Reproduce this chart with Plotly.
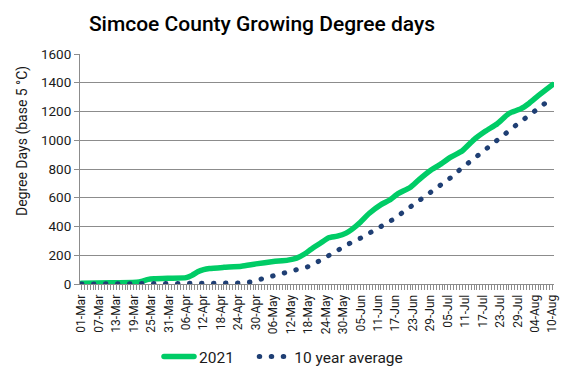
import plotly.graph_objects as go

# 2021 cumulative growing degree days (sampled dates)
dates_2021 = ["2021-03-01", "2021-03-11", "2021-03-20", "2021-03-22", "2021-03-24", "2021-03-26",
              "2021-03-31", "2021-04-06", "2021-04-08", "2021-04-10", "2021-04-12", "2021-04-14",
              "2021-04-19", "2021-04-25", "2021-04-30", "2021-05-06", "2021-05-11", "2021-05-14",
              "2021-05-17", "2021-05-19", "2021-05-22", "2021-05-25", "2021-05-28", "2021-05-31",
              "2021-06-02", "2021-06-05", "2021-06-08", "2021-06-12", "2021-06-15", "2021-06-18",
              "2021-06-22", "2021-06-25", "2021-06-29", "2021-07-02", "2021-07-06", "2021-07-10",
              "2021-07-14", "2021-07-18", "2021-07-22", "2021-07-26", "2021-07-30", "2021-08-02",
              "2021-08-05", "2021-08-10"]
gdd_2021 = [5, 8, 12, 20, 32, 36,
            40, 44, 60, 85, 100, 108,
            116, 124, 140, 156, 166, 180,
            212, 242, 282, 322, 333, 354,
            380, 432, 492, 552, 584, 630,
            671, 725, 790, 827, 882, 927,
            1005, 1064, 1115, 1186, 1218, 1258,
            1308, 1386]

# 10 year average
dates_avg = ["2021-03-01", "2021-04-08", "2021-04-20", "2021-04-24", "2021-04-28", "2021-05-02",
             "2021-05-06", "2021-05-10", "2021-05-14", "2021-05-18", "2021-05-22", "2021-05-25",
             "2021-05-29", "2021-06-01", "2021-06-05", "2021-06-09", "2021-06-12", "2021-06-16",
             "2021-06-19", "2021-06-23", "2021-06-26", "2021-06-29", "2021-07-03", "2021-07-06",
             "2021-07-09", "2021-07-12", "2021-07-15", "2021-07-19", "2021-07-22", "2021-07-25",
             "2021-07-28", "2021-08-01", "2021-08-04", "2021-08-07", "2021-08-10"]
gdd_avg = [0, 0, 2, 7, 14, 35,
           53, 72, 95, 121, 162, 198,
           247, 280, 319, 360, 400, 447,
           490, 545, 590, 634, 692, 740,
           793, 839, 887, 952, 1003, 1049,
           1098, 1158, 1203, 1251, 1296]

tick_dates = ["2021-03-01", "2021-03-07", "2021-03-13", "2021-03-19", "2021-03-25", "2021-03-31",
              "2021-04-06", "2021-04-12", "2021-04-18", "2021-04-24", "2021-04-30", "2021-05-06",
              "2021-05-12", "2021-05-18", "2021-05-24", "2021-05-30", "2021-06-05", "2021-06-11",
              "2021-06-17", "2021-06-23", "2021-06-29", "2021-07-05", "2021-07-11", "2021-07-17",
              "2021-07-23", "2021-07-29", "2021-08-04", "2021-08-10"]
tick_labels = ["01-Mar", "07-Mar", "13-Mar", "19-Mar", "25-Mar", "31-Mar",
               "06-Apr", "12-Apr", "18-Apr", "24-Apr", "30-Apr", "06-May",
               "12-May", "18-May", "24-May", "30-May", "05-Jun", "11-Jun",
               "17-Jun", "23-Jun", "29-Jun", "05-Jul", "11-Jul", "17-Jul",
               "23-Jul", "29-Jul", "04-Aug", "10-Aug"]

GREEN = "#00CC66"
NAVY = "#1F3F74"
GRID = "#8C8C8C"
FONT = "Roboto"

fig = go.Figure()
fig.add_trace(go.Scatter(x=dates_2021, y=gdd_2021, mode="lines",
                         name="2021\u00a0\u00a0\u00a0\u00a0",
                         line=dict(color=GREEN, width=5.5, shape="spline", smoothing=0.5)))
fig.add_trace(go.Scatter(x=dates_avg, y=gdd_avg, mode="lines", name="10 year average",
                         line=dict(color=NAVY, width=5, dash="0.5px,11.5px")))

fig.update_layout(
    width=568, height=378,
    margin=dict(l=80, r=14, t=54, b=94, autoexpand=False),
    paper_bgcolor="white", plot_bgcolor="white",
    font=dict(family=FONT, color="#1a1a1a", size=13),
    title=dict(text="Simcoe County Growing Degree days", xref="container", yref="container",
               x=262/568, xanchor="center", y=1-24/378, yanchor="middle",
               font=dict(family=FONT, size=21, color="#000000", weight=500)),
    showlegend=True,
    legend=dict(orientation="h", xref="container", x=159/568, xanchor="left",
                yref="container", y=1-357/378, yanchor="middle",
                font=dict(size=15.5, color="#1a1a1a"), itemwidth=30, tracegroupgap=0),
    xaxis=dict(type="date", range=["2021-02-28 12:00", "2021-08-10 12:00"],
               tickmode="array", tickvals=tick_dates, ticktext=tick_labels, tickangle=-90,
               tickfont=dict(size=12), showgrid=False, showline=True, linecolor=GRID,
               linewidth=1, ticks="outside", ticklen=5, tickcolor=GRID,
               minor=dict(dtick=86400000, ticks="outside", ticklen=5, tickcolor=GRID,
                          showgrid=False),
               zeroline=False),
    yaxis=dict(range=[0, 1600], dtick=200, showgrid=True, gridcolor=GRID, gridwidth=1,
               showline=True, linecolor=GRID, linewidth=1, ticks="outside", ticklen=5,
               tickcolor=GRID, tickfont=dict(size=13.5), zeroline=False),
    annotations=[dict(text="Degree Days (base 5 °C)", xref="paper", yref="paper",
                      x=-0.121, y=0.62, xanchor="center", yanchor="middle", textangle=-90,
                      showarrow=False, font=dict(size=14, color="#1a1a1a"))],
)

post = ("var s=document.createElement('style');"
        "s.textContent='body{margin:0 !important;} .js-line{stroke-linecap:round !important;}';"
        "document.head.appendChild(s);")
fig.write_html("out.html", post_script=post, config={"displayModeBar": False})
